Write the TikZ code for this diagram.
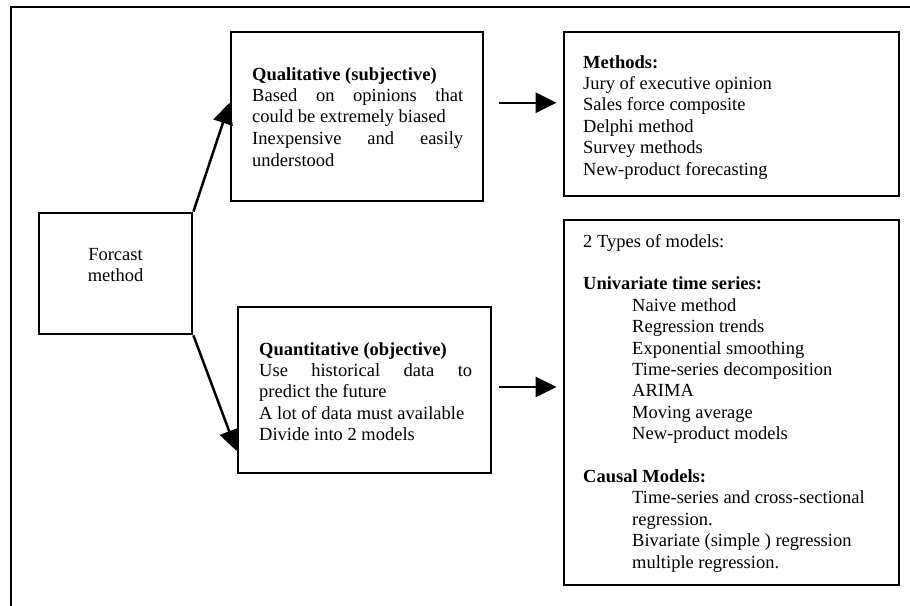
\documentclass[tikz,border=0pt]{standalone}
\usepackage{fontspec}
\setmainfont{Liberation Serif}
\usetikzlibrary{arrows.meta,calc}
\begin{document}
\begin{tikzpicture}[x=1pt,y=-1pt,
  frame/.style={line width=2.8pt},
  box/.style={draw,line width=2.8pt,inner sep=0pt,minimum width=#1},
  txt/.style={inner sep=0pt,anchor=base west,font=\fontsize{18.5}{21.4}\selectfont},
  ctxt/.style={inner sep=0pt,anchor=base,font=\fontsize{18.5}{21.4}\selectfont},
  arr/.style={line width=2.5pt,-{Triangle[length=21pt,width=20pt]}}
]
\useasboundingbox (0,0) rectangle (910,605);
\draw[frame] (11,610) -- (11,7) -- (915,7);

% boxes
\node[box=153pt,minimum height=121pt] (f) at (115.5,273.5) {};
\node[box=252pt,minimum height=169pt] (q) at (357,116.5) {};
\node[box=335pt,minimum height=164pt] (m) at (731.5,114) {};
\node[box=253pt,minimum height=166pt] (qt) at (364.5,390) {};
\node[box=335pt,minimum height=365pt] (md) at (731.5,402.5) {};

% texts
\node[ctxt] (ft) at (115.5,260) {\begin{tabular}[t]{@{}c@{}}Forcast\\method\end{tabular}};

\node[txt] (qtx) at (252,80) {\begin{tabular}[t]{@{}l@{}}
\textbf{Qualitative (subjective)}\\
\makebox[211pt][s]{Based on opinions that}\\
could be extremely biased\\
\makebox[211pt][s]{Inexpensive and easily}\\[1pt]
understood
\end{tabular}};

\node[txt] (qttx) at (259,355) {\begin{tabular}[t]{@{}l@{}}
\textbf{Quantitative (objective)}\\
\makebox[213pt][s]{Use historical data to}\\
predict the future\\
A lot of data must available\\
Divide into 2 models
\end{tabular}};

\node[txt] (mtx) at (583,68) {\begin{tabular}[t]{@{}l@{}}
\textbf{Methods:}\\
Jury of executive opinion\\
Sales force composite\\
Delphi method\\
Survey methods\\
New-product forecasting
\end{tabular}};

\node[txt] (mdtx) at (583,247) {\begin{tabular}[t]{@{}l@{}}
2 Types of models:\\
\\
\textbf{Univariate time series:}\\
\hspace*{49pt}Naive method\\
\hspace*{49pt}Regression trends\\
\hspace*{49pt}Exponential smoothing\\
\hspace*{49pt}Time-series decomposition\\
\hspace*{49pt}ARIMA\\
\hspace*{49pt}Moving average\\
\hspace*{49pt}New-product models\\
\\
\textbf{Causal Models:}\\
\hspace*{49pt}Time-series and cross-sectional\\
\hspace*{49pt}regression.\\
\hspace*{49pt}Bivariate (simple ) regression\\
\hspace*{49pt}multiple regression.
\end{tabular}};

% connector points
\coordinate (qin) at ($(q.north west)!0.42!(q.south west)$);
\coordinate (qtin) at ($(qt.north west)!0.861!(qt.south west)$);
\coordinate (qout) at ($(q.north east)!0.42!(q.south east)+(15,0)$);
\coordinate (qtout) at ($(qt.north east)!0.482!(qt.south east)+(7,0)$);

\draw[arr] (f.north east) -- (qin);
\draw[arr] (f.south east) -- (qtin);
\draw[arr,shorten >=6pt] (qout) -- (m.west |- qout);
\draw[arr,shorten >=6pt] (qtout) -- (md.west |- qtout);
\end{tikzpicture}
\end{document}
